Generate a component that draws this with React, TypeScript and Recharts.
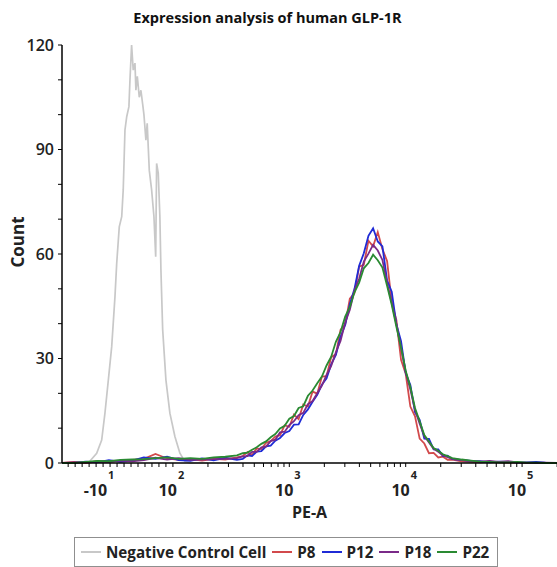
import { LineChart, Line, XAxis, YAxis, Legend } from 'recharts';

// PE-A position in decades (10^2 -> 2, 10^3 -> 3, ...), -10^1 sits at 1.4 on the biexponential axis
const controlX = [
  1.05, 1.2, 1.273, 1.345, 1.388, 1.416, 1.445, 1.474, 1.502, 1.517, 1.539, 1.56, 1.573, 1.588, 1.603,
  1.622, 1.631, 1.645, 1.659, 1.674, 1.682, 1.694, 1.711, 1.725, 1.74, 1.751, 1.768, 1.779, 1.797, 1.817,
  1.837, 1.852, 1.86, 1.874, 1.888, 1.897, 1.912, 1.94, 1.974, 2.017, 2.06, 2.103, 2.146, 2.3,
];
const controlCount = [
  0, 0, 0, 2.8, 6.6, 14.3, 23.8, 33.4, 47.7, 57.3, 67.8, 70.7, 78.4, 95.6, 99.4,
  102.3, 110, 120, 112.8, 114.8, 107, 111, 105, 107, 103, 100, 92.7, 97.5, 84, 78.4,
  70.7, 59.2, 86, 83.2, 70.7, 55.4, 38.3, 23.8, 14.3, 7.6, 2.8, 0.4, 0, 0,
];

const sampleX = [
  1.05, 1.15, 1.25, 1.35, 1.45, 1.55, 1.65, 1.75, 1.85, 1.95, 2.05, 2.15, 2.25, 2.35, 2.45, 2.55,
  2.6, 2.64, 2.68, 2.72, 2.76, 2.8, 2.84, 2.88, 2.92, 2.96, 3.0, 3.04, 3.08, 3.12, 3.16, 3.2, 3.24, 3.28, 3.32, 3.36, 3.4, 3.44, 3.48,
  3.52, 3.56, 3.6, 3.64, 3.68, 3.72, 3.76, 3.8, 3.84, 3.88, 3.92, 3.96, 4.0, 4.04, 4.08, 4.12, 4.16, 4.2, 4.24, 4.28, 4.32, 4.36, 4.4,
  4.48, 4.56, 4.64, 4.72, 4.8, 4.88, 4.96, 5.04, 5.12, 5.2, 5.3,
];
const p8 = [
  0, 0.3, 0, 0.5, 0.4, 0.6, 0.9, 1.2, 2.6, 1.3, 0.9, 1.1, 0.7, 1.2, 1.0, 1.6,
  2.0, 3.1, 2.3, 4.2, 4.0, 5.8, 6.3, 7.6, 8.0, 10.8, 10.4, 13.9, 12.6, 16.8, 16.2, 20.5, 19.9, 24.8, 24.9, 30.4, 31.2, 38.2, 39.8,
  47.2, 48.8, 56.4, 56.9, 63.8, 62.2, 66.3, 61.4, 58.0, 46.2, 41.0, 29.6, 25.6, 16.2, 13.4, 7.0, 5.6, 2.8, 2.9, 1.6, 1.8, 0.9, 1.0,
  0.5, 0.3, 0.2, 0.4, 0.2, 0.1, 0.2, 0, 0.1, 0, 0,
];
const p12 = [
  0, 0, 0.4, 0.2, 0.8, 0.3, 0.7, 1.6, 1.2, 1.8, 0.8, 0.6, 1.3, 0.8, 1.5, 0.9,
  1.2, 2.2, 2.0, 3.3, 3.4, 4.8, 5.0, 6.4, 7.2, 8.6, 9.2, 11.0, 11.1, 13.8, 15.4, 17.6, 19.6, 22.5, 24.3, 28.3, 31.0, 36.2, 39.6,
  45.6, 50.0, 56.6, 60.2, 65.2, 67.4, 63.6, 62.2, 52.4, 49.2, 39.8, 35.0, 25.8, 22.4, 14.6, 12.4, 7.0, 6.9, 3.9, 3.9, 2.0, 2.1, 1.1,
  0.9, 0.6, 0.5, 0.2, 0.4, 0.3, 0.1, 0.2, 0.3, 0.1, 0,
];
const p18 = [
  0, 0.2, 0.2, 0.4, 0.3, 0.7, 0.5, 0.8, 1.5, 1.0, 1.4, 0.9, 1.0, 1.1, 1.2, 1.4,
  1.9, 2.0, 3.2, 3.2, 4.5, 4.7, 6.3, 6.7, 8.8, 9.0, 10.9, 12.0, 13.7, 14.4, 16.9, 17.8, 20.0, 22.2, 25.3, 27.9, 31.8, 35.0, 40.3,
  44.0, 49.6, 52.9, 57.8, 60.1, 62.6, 61.0, 58.3, 51.7, 46.0, 39.9, 33.0, 26.1, 21.1, 15.3, 11.3, 7.7, 5.9, 4.1, 3.2, 2.2, 1.7, 1.2,
  0.8, 0.5, 0.4, 0.6, 0.3, 0.5, 0.2, 0.1, 0, 0.1, 0,
];
const p22 = [
  0, 0, 0.3, 0.6, 0.5, 0.9, 1.0, 1.1, 1.4, 1.6, 1.2, 1.4, 1.2, 1.6, 1.8, 2.2,
  2.8, 3.0, 3.8, 4.5, 5.5, 6.2, 7.4, 8.3, 9.9, 10.7, 12.7, 13.5, 15.8, 16.3, 19.3, 20.8, 22.9, 24.8, 28.0, 30.5, 34.8, 37.6, 42.0,
  44.8, 49.0, 51.8, 55.9, 57.4, 59.8, 58.2, 56.1, 50.9, 45.4, 39.1, 33.2, 26.5, 21.8, 15.8, 12.0, 8.0, 6.2, 4.3, 3.5, 2.5, 2.0, 1.4,
  1.0, 0.7, 0.4, 0.3, 0.2, 0.2, 0.3, 0.1, 0.1, 0, 0,
];

const majorX = [1.4, 2, 3, 4, 5];
const majorBase = ['-10', '10', '10', '10', '10'];
const majorExp = ['1', '2', '3', '4', '5'];
const linearMinorX = [1.1, 1.16, 1.22, 1.28, 1.34, 1.46, 1.52, 1.58, 1.64, 1.7, 1.76, 1.82, 1.88, 1.94];
const decadeMinor = [2, 3, 4, 5, 6, 7, 8, 9];
const yTicks = [0, 10, 20, 30, 40, 50, 60, 70, 80, 90, 100, 110, 120];
const yLabelled = [0, 30, 60, 90, 120];

const series = [
  { key: 'control', name: 'Negative Control Cell', color: '#c8c8c8', width: 1.7, xs: controlX, ys: controlCount },
  { key: 'p8', name: 'P8', color: '#d24a4c', width: 1.8, xs: sampleX, ys: p8 },
  { key: 'p12', name: 'P12', color: '#1f2bd6', width: 1.8, xs: sampleX, ys: p12 },
  { key: 'p18', name: 'P18', color: '#7a2a88', width: 1.8, xs: sampleX, ys: p18 },
  { key: 'p22', name: 'P22', color: '#2a8a32', width: 1.8, xs: sampleX, ys: p22 },
];

const logMinorX = [2, 3, 4].flatMap((d) => decadeMinor.map((k) => d + Math.log10(k))).concat([5 + Math.log10(2)]);
const xTicks = [...linearMinorX, ...majorX, ...logMinorX].sort((a, b) => a - b);

const FONT = '"Open Sans", sans-serif';

function XTick(props: any) {
  const { x, y, payload } = props;
  const i = majorX.indexOf(payload.value);
  if (i < 0) return <g />;
  return (
    <g fontFamily={FONT} fontWeight={700} fill="#222">
      <text x={x + 4} y={y + 27} textAnchor="end" fontSize={16}>
        {majorBase[i]}
      </text>
      <text x={x + 5} y={y + 10} textAnchor="start" fontSize={11}>
        {majorExp[i]}
      </text>
    </g>
  );
}

function LegendBox() {
  return (
    <div
      style={{
        display: 'flex',
        alignItems: 'center',
        height: 30,
        boxSizing: 'border-box',
        border: '1px solid #8f8f8f',
        paddingLeft: 6,
        fontFamily: FONT,
        fontWeight: 700,
        fontSize: 15.2,
        color: '#222',
        background: '#fff',
        whiteSpace: 'nowrap',
      }}
    >
      {series.map((s) => (
        <div key={s.key} style={{ display: 'flex', alignItems: 'center', marginRight: 6 }}>
          <span style={{ display: 'inline-block', width: 20, borderTop: `2px solid ${s.color}`, marginRight: 5 }} />
          <span>{s.name}</span>
        </div>
      ))}
    </div>
  );
}

export default function App() {
  return (
    <div style={{ position: 'absolute', left: 0, top: 0, width: 557, height: 567, background: '#fff' }}>
      <div
        style={{
          position: 'absolute',
          top: 8,
          left: 0,
          width: 535,
          textAlign: 'center',
          fontFamily: FONT,
          fontWeight: 700,
          fontSize: 14.5,
          color: '#111',
          zIndex: 2,
        }}
      >
        Expression analysis of human GLP-1R
      </div>
      <LineChart width={557} height={567} margin={{ top: 45, right: 0, bottom: 44, left: 12 }}>
        <XAxis
          dataKey="x"
          type="number"
          domain={[1.047, 5.3]}
          ticks={xTicks}
          interval={0}
          tick={<XTick />}
          tickSize={4}
          tickLine={{ stroke: '#000' }}
          axisLine={{ stroke: '#000', strokeWidth: 1.5 }}
          height={60}
          label={{ value: 'PE-A', position: 'insideBottom', offset: 5, fontFamily: FONT, fontWeight: 700, fontSize: 16, fill: '#222' }}
        />
        <YAxis
          type="number"
          domain={[0, 120]}
          ticks={yTicks}
          interval={0}
          width={50}
          tickSize={4}
          tickMargin={4}
          tickLine={{ stroke: '#000' }}
          axisLine={{ stroke: '#000', strokeWidth: 1.5 }}
          tickFormatter={(v: number) => (yLabelled.includes(v) ? String(v) : '')}
          tick={{ fontFamily: FONT, fontWeight: 600, fontSize: 16, fill: '#222' }}
          label={{
            content: () => (
              <text
                x={17}
                y={242}
                transform="rotate(-90 17 242)"
                textAnchor="middle"
                dominantBaseline="central"
                fontFamily={FONT}
                fontWeight={700}
                fontSize={17}
                fill="#222"
              >
                Count
              </text>
            ),
          }}
        />
        <Legend
          layout="horizontal"
          verticalAlign="middle"
          align="center"
          wrapperStyle={{ top: 537, left: 74, width: 424, height: 30 }}
          content={() => <LegendBox />}
        />
        {series.map((s) => (
          <Line
            key={s.key}
            name={s.name}
            data={s.xs.map((x, i) => ({ x, y: s.ys[i] }))}
            dataKey="y"
            type="linear"
            stroke={s.color}
            strokeWidth={s.width}
            dot={false}
            activeDot={false}
            isAnimationActive={false}
          />
        ))}
      </LineChart>
    </div>
  );
}
